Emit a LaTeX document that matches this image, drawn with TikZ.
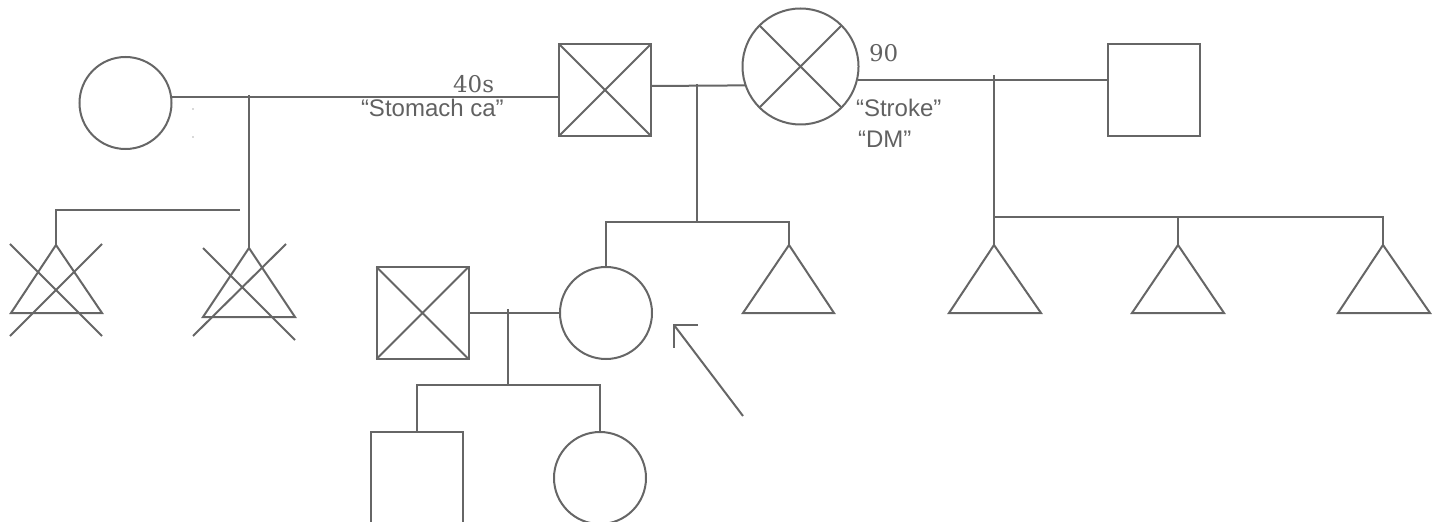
\documentclass[tikz,border=0pt]{standalone}
\usepackage{fontspec}
\setmainfont{Liberation Sans}
\newfontfamily\numfont{DejaVu Serif}
\definecolor{ln}{rgb}{0.40,0.40,0.40}
\definecolor{tx}{rgb}{0.38,0.38,0.38}
\tikzset{
  ped/.style={draw=ln, line width=2bp},
  fem/.style={ped, circle, inner sep=0pt, outer sep=0pt, minimum size=92bp},
  malebox/.style={ped, rectangle, inner sep=0pt, outer sep=0pt, minimum size=92bp},
  lbl/.style={text=tx, inner sep=0pt, anchor=base west, font=\fontsize{24bp}{28bp}\selectfont},
  numlbl/.style={text=tx, inner sep=0pt, anchor=base west, font=\numfont\fontsize{23bp}{27bp}\selectfont},
  speck/.style={fill=ln!50, draw=none}
}
\begin{document}
\begin{tikzpicture}[x=1bp, y=-1bp, line width=2bp, draw=ln]
\useasboundingbox (0,0) rectangle (1439,522);
\clip (0,0) rectangle (1439,522);

% ---- individuals
\node[fem] (gm) at (125.5,103) {};
\node[malebox] (gf) at (605,90) {};
\node[fem, minimum size=116bp] (gm2) at (800.5,66.5) {};
\node[malebox] (gf2) at (1153.5,90) {};
\node[malebox] (hus) at (422.5,313) {};
\node[fem] (pro) at (606,313) {};
\node[malebox] (son) at (417,478) {};
\node[fem] (dau) at (600,478) {};

% crosses (deceased)
\draw[ln] (gf.north west) -- (gf.south east) (gf.north east) -- (gf.south west);
\draw[ln] (hus.north west) -- (hus.south east) (hus.north east) -- (hus.south west);
\draw[ln] (gm2.45) -- (gm2.225) (gm2.135) -- (gm2.315);

% ---- triangle apexes
\coordinate (ct1) at (56,245);
\coordinate (ct2) at (249,248);
\coordinate (t0) at (789,245);
\coordinate (t1) at (994,245);
\coordinate (t2) at (1178,245);
\coordinate (t3) at (1383,245);

% triangles
\draw[ln] (ct1) -- (11,313) -- (102,313) -- cycle;
\draw[ln] (10,244) -- (102,336) (102,244) -- (10,336);
\draw[ln] (ct2) -- (203,317) -- (295,317) -- cycle;
\draw[ln] (203,248) -- (295,340) (286,244) -- (193,336);
\draw[ln] (t0) -- (743,313) -- (834,313) -- cycle;
\draw[ln] (t1) -- (949,313) -- (1041,313) -- cycle;
\draw[ln] (t2) -- (1132,313) -- (1224,313) -- cycle;
\draw[ln] (t3) -- (1338,313) -- (1430,313) -- cycle;

% ---- connectors
\coordinate (m1) at (171.6,97);
\coordinate (m2) at (858,80);
\coordinate (sib1) at (240,210);
\draw[ln] (m1) -- (gf.west |- m1);
\draw[ln] (249,95) -- (ct2);
\draw[ln] (sib1) -- (ct1 |- sib1) -- (ct1);

\draw[ln] (gf.east |- 0,86) -- (gm2.199.6);
\draw[ln] (697,84) -- (697,222);
\draw[ln] (pro.north) -- (pro.north |- 0,222) -- (t0 |- 0,222) -- (t0);

\draw[ln] (m2) -- (gf2.west |- m2);
\draw[ln] (t1 |- 0,75) -- (t1);
\draw[ln] (t1 |- 0,217) -- (t3 |- 0,217) -- (t3);
\draw[ln] (t2 |- 0,217) -- (t2);

\draw[ln] (hus.east) -- (pro.west);
\draw[ln] (508,309) -- (508,385);
\draw[ln] (son.north) -- (son.north |- 0,385) -- (dau.north |- 0,385) -- (dau.north);

% proband arrow
\coordinate (atip) at (674,325);
\coordinate (atail) at (743,416);
\draw[ln] (atail) -- (atip);
\draw[ln] (698,325) -- (atip) -- (674,348);

% specks
\fill[speck] (193,109) circle (0.9);
\fill[speck] (193,137) circle (0.9);

% ---- labels
\node[numlbl] (l40) at (452,93) {40s};
\node[lbl] (lsto) at (360,117) {“Stomach ca”};
\node[numlbl] (l90) at (868,62) {90};
\node[lbl] (lstr) at (855,117) {“Stroke”};
\node[lbl] (ldm) at (857,148) {“DM”};
\end{tikzpicture}
\end{document}
